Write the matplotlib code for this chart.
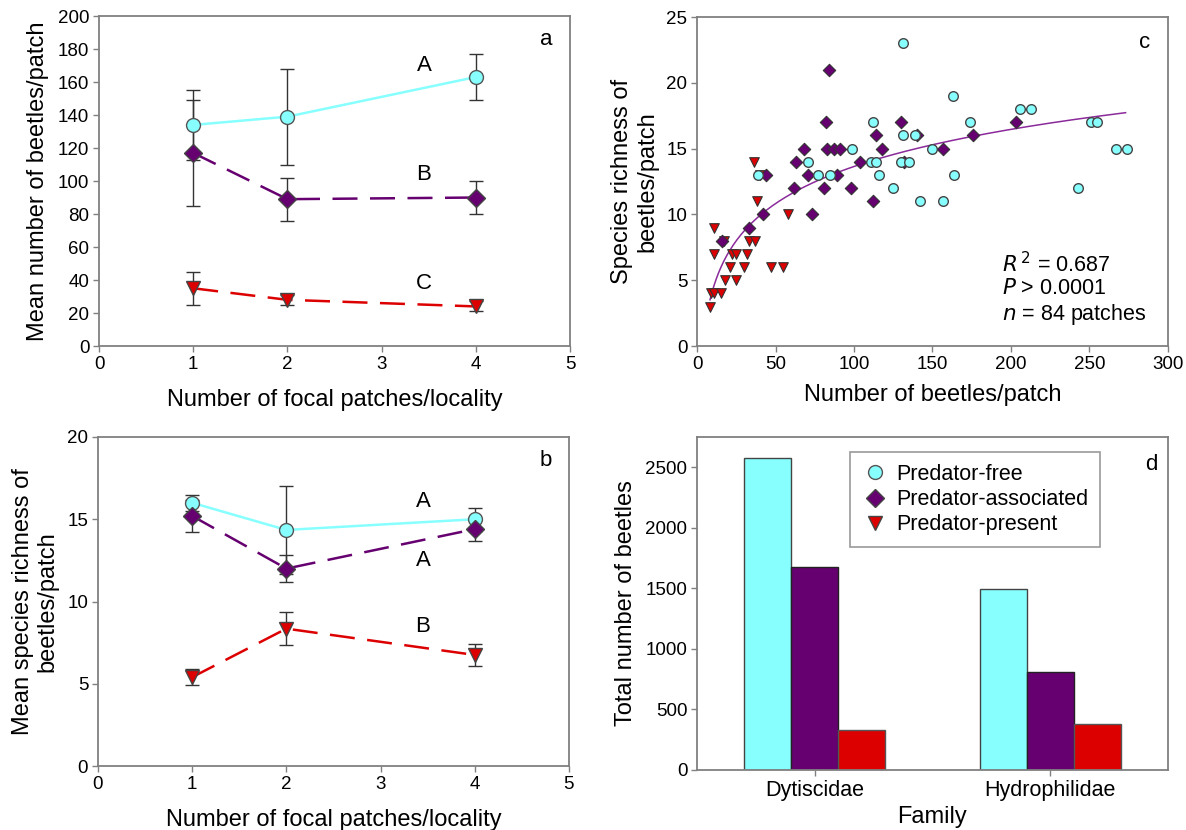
import matplotlib
matplotlib.use("Agg")
import matplotlib.pyplot as plt
import numpy as np
from matplotlib.lines import Line2D

plt.rcParams["font.family"] = ["Liberation Sans", "DejaVu Sans"]

# panel a / b: x positions
patches = [1, 2, 4]

# panel a: mean number of beetles per patch
a_free = [134, 139, 163]
a_free_err = [21, 29, 14]
a_assoc = [117, 89, 90]
a_assoc_err = [32, 13, 10]
a_present = [35, 28, 24]
a_present_err = [10, 3, 3]

# panel b: mean species richness per patch
b_free = [16.0, 14.35, 15.0]
b_free_err = [0.5, 2.65, 0.7]
b_assoc = [15.2, 12.0, 14.4]
b_assoc_err = [1.0, 0.8, 0.7]
b_present = [5.4, 8.35, 6.75]
b_present_err = [0.5, 1.0, 0.65]

# panel c: scatter (beetles/patch, species richness)
c_free_x = [131, 163, 112, 131, 139, 174, 99, 150, 71, 111, 114, 130, 135, 39, 77, 85, 116, 164, 125,
            142, 157, 206, 213, 251, 255, 267, 274, 243]
c_free_y = [23, 19, 17, 16, 16, 17, 15, 15, 14, 14, 14, 14, 14, 13, 13, 13, 13, 13, 12,
            11, 11, 18, 18, 17, 17, 15, 15, 12]
c_assoc_x = [84, 82, 130, 114, 140, 68, 83, 87, 91, 118, 157, 176, 63, 104, 132, 44, 71, 89, 62, 81, 98,
             112, 203, 42, 73, 33, 16]
c_assoc_y = [21, 17, 17, 16, 16, 15, 15, 15, 15, 15, 15, 16, 14, 14, 14, 13, 13, 13, 12, 12, 12,
             11, 17, 10, 10, 9, 8]
c_present_x = [36, 40, 38, 58, 11, 17, 33, 37, 11, 22, 25, 32, 21, 30, 47, 55, 18, 25, 9, 11, 15, 8]
c_present_y = [14, 13, 11, 10, 9, 8, 8, 8, 7, 7, 7, 7, 6, 6, 6, 6, 5, 5, 4, 4, 4, 3]
# logarithmic fit: y = fit_a + fit_b * ln(x)
fit_a = -5.1
fit_b = 4.07
fit_range = [8.3, 273]

# panel d: totals per family
families = ["Dytiscidae", "Hydrophilidae"]
d_free = [2580, 1495]
d_assoc = [1673, 810]
d_present = [327, 382]

CYAN = "#88FFFF"
PURPLE = "#660070"
RED = "#DD0000"
EDGE = "#333333"
SPINE = "#808080"

LABEL_FS = 17
TICK_FS = 13.5
NOTE_FS = 16


def style_axes(ax):
    for sp in ax.spines.values():
        sp.set_color(SPINE)
        sp.set_linewidth(1.3)
    ax.tick_params(axis="both", direction="out", length=4, width=1, color=SPINE,
                   labelsize=TICK_FS, pad=3)


def line_panel(ax, free, free_err, assoc, assoc_err, present, present_err):
    eb = dict(fmt="none", ecolor=EDGE, elinewidth=1.0, capsize=5, capthick=1.0, zorder=2)
    ax.errorbar(patches, free, yerr=free_err, **eb)
    ax.errorbar(patches, assoc, yerr=assoc_err, **eb)
    ax.errorbar(patches, present, yerr=present_err, **eb)
    ax.plot(patches, free, color=CYAN, lw=1.8, marker="o", markersize=10,
            markerfacecolor=CYAN, markeredgecolor="#555555", markeredgewidth=1.0, zorder=3)
    ax.plot(patches, assoc, color=PURPLE, lw=1.8, dashes=(10, 5), marker="D", markersize=9,
            markerfacecolor=PURPLE, markeredgecolor="#444444", markeredgewidth=1.0, zorder=3)
    ax.plot(patches, present, color=RED, lw=1.8, dashes=(10, 5), marker="v", markersize=10,
            markerfacecolor=RED, markeredgecolor="#444444", markeredgewidth=1.0, zorder=3)
    ax.set_xlim(0, 5)
    ax.set_xticks([0, 1, 2, 3, 4, 5])
    ax.set_xlabel("Number of focal patches/locality", fontsize=LABEL_FS, labelpad=12)
    style_axes(ax)


fig = plt.figure(figsize=(11.86, 8.30), dpi=100)

# panel a
ax_a = fig.add_axes([0.0835, 0.5831, 0.3971, 0.3976])
line_panel(ax_a, a_free, a_free_err, a_assoc, a_assoc_err, a_present, a_present_err)
ax_a.set_ylim(0, 200)
ax_a.set_yticks(np.arange(0, 201, 20))
ax_a.set_ylabel("Mean number of beetles/patch", fontsize=LABEL_FS, labelpad=6)
ax_a.text(3.45, 170, "A", fontsize=NOTE_FS, ha="center", va="center")
ax_a.text(3.45, 104, "B", fontsize=NOTE_FS, ha="center", va="center")
ax_a.text(3.45, 38, "C", fontsize=NOTE_FS, ha="center", va="center")
ax_a.text(4.75, 186, "a", fontsize=NOTE_FS, ha="center", va="center")

# panel b
ax_b = fig.add_axes([0.0826, 0.0771, 0.3971, 0.3964])
line_panel(ax_b, b_free, b_free_err, b_assoc, b_assoc_err, b_present, b_present_err)
ax_b.set_ylim(0, 20)
ax_b.set_yticks([0, 5, 10, 15, 20])
ax_b.set_ylabel("Mean species richness of\nbeetles/patch", fontsize=LABEL_FS, labelpad=6)
ax_b.text(3.45, 16.05, "A", fontsize=NOTE_FS, ha="center", va="center")
ax_b.text(3.45, 12.5, "A", fontsize=NOTE_FS, ha="center", va="center")
ax_b.text(3.45, 8.5, "B", fontsize=NOTE_FS, ha="center", va="center")
ax_b.text(4.75, 18.6, "b", fontsize=NOTE_FS, ha="center", va="center")

# panel c
ax_c = fig.add_axes([0.5877, 0.5831, 0.3971, 0.3964])
ax_c.scatter(c_present_x, c_present_y, marker="v", s=48, c=RED, edgecolors="#333333", linewidths=0.8, zorder=3)
ax_c.scatter(c_assoc_x, c_assoc_y, marker="D", s=40, c=PURPLE, edgecolors="#333333", linewidths=0.8, zorder=3)
ax_c.scatter(c_free_x, c_free_y, marker="o", s=48, c=CYAN, edgecolors="#444444", linewidths=1.0, zorder=3)
xf = np.linspace(fit_range[0], fit_range[1], 200)
ax_c.plot(xf, fit_a + fit_b * np.log(xf), color="#8B2A9A", lw=1.1, zorder=2)
ax_c.set_xlim(0, 300)
ax_c.set_ylim(0, 25)
ax_c.set_xticks(np.arange(0, 301, 50))
ax_c.set_yticks(np.arange(0, 26, 5))
ax_c.set_xlabel("Number of beetles/patch", fontsize=LABEL_FS, labelpad=8)
ax_c.set_ylabel("Species richness of\nbeetles/patch", fontsize=LABEL_FS, labelpad=6)
ax_c.text(194, 6.15, r"$R^{\,2}$ = 0.687", fontsize=15.5, ha="left", va="center")
ax_c.text(194, 4.4, r"$P$ > 0.0001", fontsize=15.5, ha="left", va="center")
ax_c.text(194, 2.4, r"$n$ = 84 patches", fontsize=15.5, ha="left", va="center")
ax_c.text(285, 23.1, "c", fontsize=NOTE_FS, ha="center", va="center")
style_axes(ax_c)

# panel d
ax_d = fig.add_axes([0.5877, 0.0723, 0.3971, 0.4012])
xd = np.arange(len(families))
w = 0.2
ax_d.bar(xd - w, d_free, width=w, color=CYAN, edgecolor="#444444", linewidth=1.0, zorder=2)
ax_d.bar(xd, d_assoc, width=w, color=PURPLE, edgecolor="#222222", linewidth=1.0, zorder=2)
ax_d.bar(xd + w, d_present, width=w, color=RED, edgecolor="#555555", linewidth=1.0, zorder=2)
ax_d.set_xlim(-0.5, 1.5)
ax_d.set_ylim(0, 2750)
ax_d.set_yticks([0, 500, 1000, 1500, 2000, 2500])
ax_d.set_xticks(xd)
ax_d.set_xticklabels(families)
ax_d.set_ylabel("Total number of beetles", fontsize=LABEL_FS, labelpad=6)
style_axes(ax_d)
ax_d.tick_params(axis="x", labelsize=15.5)
ax_d.set_xlabel("Family", fontsize=LABEL_FS, labelpad=4)
handles = [
    Line2D([0], [0], ls="none", marker="o", markersize=10, markerfacecolor=CYAN, markeredgecolor="#555555"),
    Line2D([0], [0], ls="none", marker="D", markersize=9, markerfacecolor=PURPLE, markeredgecolor="#444444"),
    Line2D([0], [0], ls="none", marker="v", markersize=10, markerfacecolor=RED, markeredgecolor="#444444"),
]
leg = ax_d.legend(handles, ["Predator-free", "Predator-associated", "Predator-present"],
                  loc="upper left", bbox_to_anchor=(0.325, 0.955), borderaxespad=0, fontsize=15.5,
                  frameon=True, fancybox=False, edgecolor=SPINE, handletextpad=0.4, labelspacing=0.2,
                  borderpad=0.55, handlelength=1.2)
leg.get_frame().set_linewidth(1.2)
ax_d.text(1.43, 2520, "d", fontsize=NOTE_FS, ha="center", va="center")

fig.savefig("out.png", dpi=100)
